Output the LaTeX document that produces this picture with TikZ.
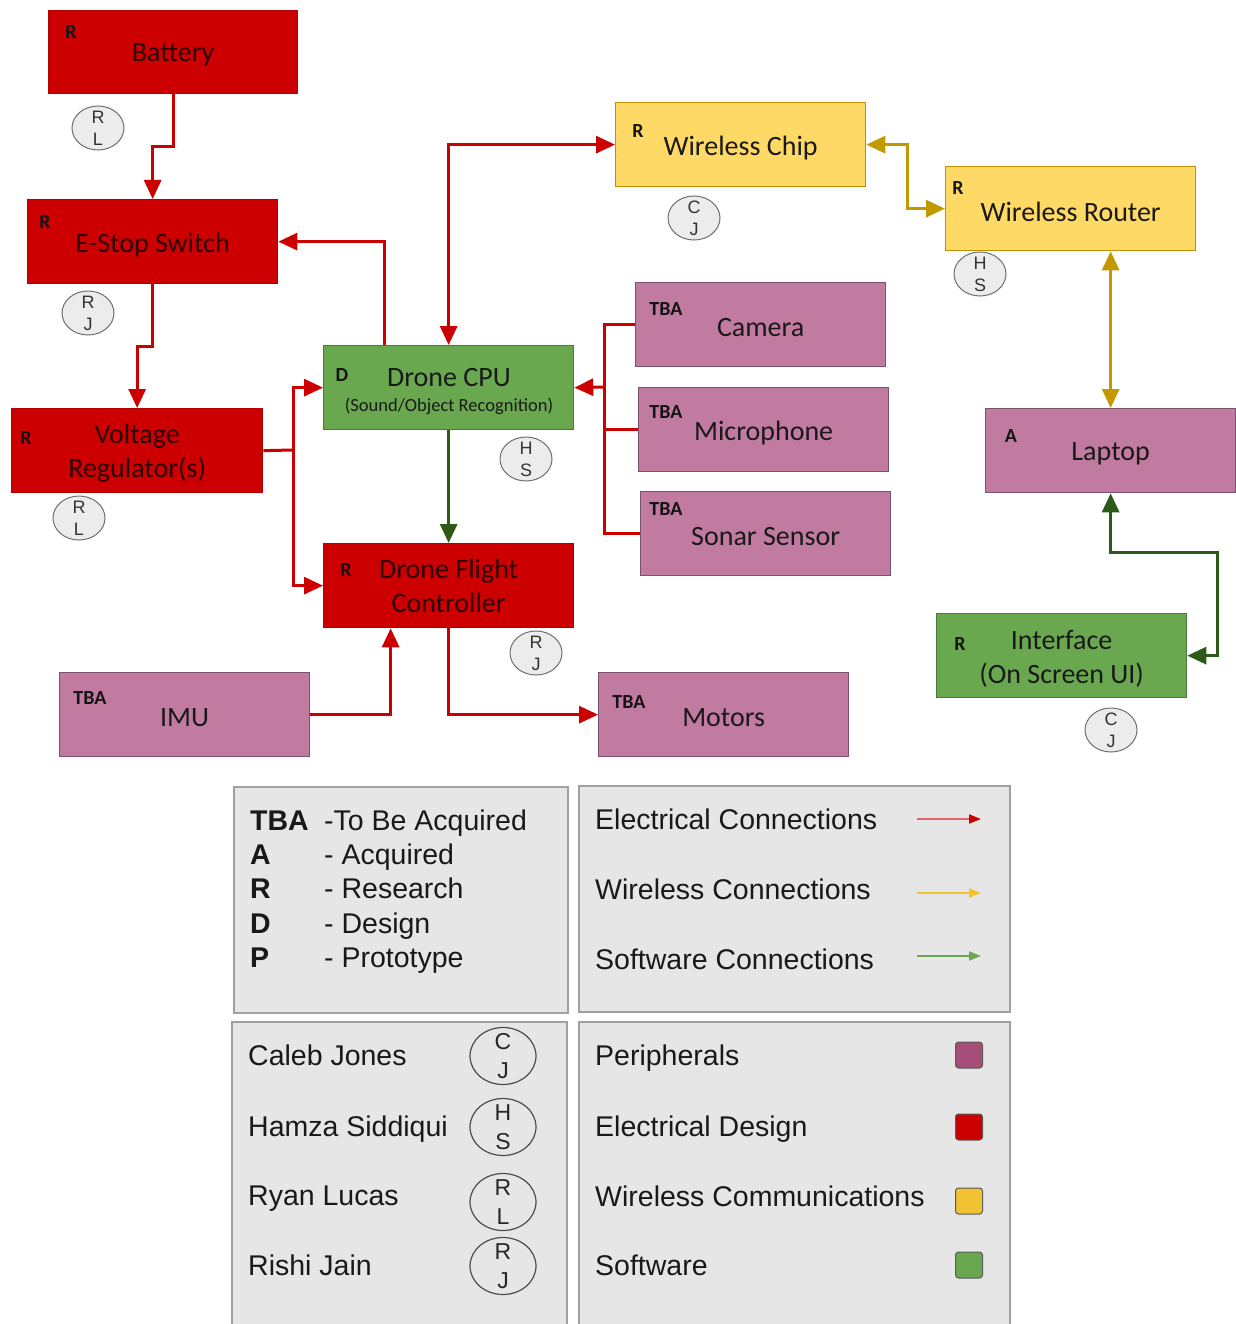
\documentclass[tikz,border=0pt]{standalone}
\usepackage{fontspec}
\setmainfont{Carlito}
\newfontfamily\arialf{Liberation Sans}
\usetikzlibrary{arrows.meta,shapes.geometric}
\definecolor{cred}{HTML}{CC0000}
\definecolor{credB}{HTML}{B00000}
\definecolor{credT}{HTML}{2E0000}
\definecolor{cpink}{HTML}{C27BA0}
\definecolor{cpinkB}{HTML}{7A5270}
\definecolor{cyel}{HTML}{FFD966}
\definecolor{cyelB}{HTML}{BF9000}
\definecolor{cgrn}{HTML}{6AA84F}
\definecolor{cgrnB}{HTML}{4C7A3A}
\definecolor{cline}{HTML}{CC0000}
\definecolor{cgold}{HTML}{C29A00}
\definecolor{cdgrn}{HTML}{2E5A17}
\definecolor{cini}{HTML}{ECECEC}
\definecolor{ciniB}{HTML}{707070}
\definecolor{clegbg}{HTML}{E7E6E6}
\definecolor{clegB}{HTML}{A0A0A0}
\definecolor{cperi}{HTML}{A64D79}
\definecolor{cwyel}{HTML}{F1C232}
\definecolor{celec}{HTML}{E06666}
\tikzset{bigtip/.tip={Triangle[length=19pt,width=17pt]}}
\begin{document}
\begin{tikzpicture}[x=1pt,y=-1pt,
  base/.style={rectangle,draw,line width=1.3pt,minimum width=250pt,minimum height=84pt,inner sep=0pt,anchor=north west},
  btxt/.style={label={[font=\fontsize{28}{34}\selectfont,align=center,yshift=-3pt,text=black!90,inner sep=0pt]center:{#1}}},
  rtxt/.style={label={[font=\fontsize{28}{34}\selectfont,align=center,yshift=-3pt,text=credT,inner sep=0pt]center:{#1}}},
  redbox/.style={base,fill=cred,draw=credB,rtxt={#1}},
  pinkbox/.style={base,fill=cpink,draw=cpinkB,btxt={#1}},
  yelbox/.style={base,fill=cyel,draw=cyelB,btxt={#1}},
  grnbox/.style={base,fill=cgrn,draw=cgrnB,btxt={#1}},
  tag/.style={font=\bfseries\fontsize{20}{20}\selectfont,inner sep=0pt,text=black!92},
  ini/.style={ellipse,draw=ciniB,fill=cini,line width=1pt,minimum width=52pt,minimum height=44pt,inner sep=0pt},
  inil/.style={font=\arialf\fontsize{18}{22}\selectfont,align=center,text=black!80},
  lini/.style={ellipse,draw=black!70,fill=clegbg,line width=1.2pt,minimum width=66pt,minimum height=57pt,inner sep=0pt},
  linil/.style={font=\arialf\fontsize{23}{29}\selectfont,align=center,text=black!85},
  ered/.style={draw=cline,line width=3pt},
  egold/.style={draw=cgold,line width=3pt},
  egrn/.style={draw=cdgrn,line width=3pt},
  legtxt/.style={font=\arialf\fontsize{28.5}{34}\selectfont,anchor=base west,inner sep=0pt,text=black!90},
  legbox/.style={fill=clegbg,draw=clegB,line width=2pt},
  sw/.style={rectangle,rounded corners=3pt,draw=black!65,line width=1pt,minimum width=27pt,minimum height=26pt,inner sep=0pt}
]
\useasboundingbox (0,0) rectangle (1235,1324);
\fill[white] (0,0) rectangle (1235,1324);

% ---------- boxes ----------
\node[redbox={Battery},minimum width=249pt,minimum height=83pt] (bat) at (48,10) {};
\node[redbox={E-Stop Switch}] (estop) at (27,199) {};
\node[redbox={Voltage\\Regulator(s)},minimum width=251pt] (vr) at (11,408) {};
\node[base,fill=cgrn,draw=cgrnB] (cpu) at (323,345) {};
\node[font=\fontsize{28}{34}\selectfont,text=black!90,inner sep=0pt] (cpuT) at (449,378) {Drone CPU};
\node[font=\fontsize{18.5}{22}\selectfont,text=black!90,inner sep=0pt] (cpuS) at (449,406) {(Sound/Object Recognition)};
\node[base,fill=cred,draw=credB,label={[font=\fontsize{28}{34}\selectfont,align=center,text=credT,inner sep=0pt]center:{Drone Flight\\Controller}}] (fc) at (323,543) {};
\node[pinkbox={IMU}] (imu) at (59,672) {};
\node[pinkbox={Motors}] (mot) at (598,672) {};
\node[yelbox={Wireless Chip}] (wchip) at (615,102) {};
\node[yelbox={Wireless Router}] (router) at (945,166) {};
\node[pinkbox={Camera}] (cam) at (635,282) {};
\node[pinkbox={Microphone}] (mic) at (638,387) {};
\node[pinkbox={Sonar Sensor}] (sonar) at (640,491) {};
\node[pinkbox={Laptop}] (laptop) at (985,408) {};
\node[grnbox={Interface\\(On Screen UI)}] (intf) at (936,613) {};

% ---------- tags ----------
\node[tag] (tbat) at (71,32) {R};
\node[tag] (testop) at (45,222) {R};
\node[tag] (tvr) at (26,438) {R};
\node[tag] (tcpu) at (342,375) {D};
\node[tag] (tfc) at (346,570) {R};
\node[tag] (timu) at (90,698) {TBA};
\node[tag] (tmot) at (629,702) {TBA};
\node[tag] (twchip) at (638,131) {R};
\node[tag] (trouter) at (958,188) {R};
\node[tag] (tcam) at (666,309) {TBA};
\node[tag] (tmic) at (666,412) {TBA};
\node[tag] (tsonar) at (666,509) {TBA};
\node[tag] (tlaptop) at (1011,436) {A};
\node[tag] (tintf) at (960,644) {R};

% ---------- initials ----------
\node[ini,label={[inil]center:R\\L}] (i1) at (98,128) {};
\node[ini,label={[inil]center:R\\J}] (i2) at (88,313) {};
\node[ini,label={[inil]center:R\\L}] (i3) at (79,518) {};
\node[ini,label={[inil]center:C\\J}] (i4) at (694,218) {};
\node[ini,label={[inil]center:H\\S}] (i5) at (980,274) {};
\node[ini,label={[inil]center:H\\S}] (i6) at (526,459) {};
\node[ini,label={[inil]center:R\\J}] (i7) at (536,653) {};
\node[ini,label={[inil]center:C\\J}] (i8) at (1111,730) {};

% ---------- connectors ----------
\coordinate (vrj) at (293,450);
\coordinate (pj) at (604,387);
\coordinate (lc) at (1217,552);

\draw[ered,-{bigtip}] (bat.south) -- ++(0,52) -| (estop.north);
\draw[ered,-{bigtip}] (estop.south) -- ++(0,62) -| (vr.north);
\draw[ered,-{bigtip}] ([xshift=61pt]cpu.north west) |- (estop.east);
\draw[ered,{bigtip}-{bigtip}] (cpu.north) |- (wchip.west);
\draw[ered] (vr.east) -- (vrj);
\draw[ered,-{bigtip}] (vrj) |- (cpu.west);
\draw[ered,-{bigtip}] (vrj) |- (fc.west);
\draw[ered] (cam.west) -| (pj);
\draw[ered] (mic.west) -| (pj);
\draw[ered] (sonar.west) -| (pj);
\draw[ered,-{bigtip}] (pj) -- (cpu.east);
\draw[egrn,-{bigtip}] (cpu.south) -- (fc.north);
\draw[ered,-{bigtip}] (imu.east) -| ([xshift=-58pt]fc.south);
\draw[ered,-{bigtip}] (fc.south) |- (mot.west);
\draw[egold,{bigtip}-{bigtip}] (wchip.east) -- ++(41,0) |- (router.west);
\draw[egold,{bigtip}-{bigtip}] (laptop.north |- router.south) -- (laptop.north);
\draw[egrn,{bigtip}-{bigtip}] (laptop.south) |- (lc) |- (intf.east);

% ---------- legend ----------
\draw[legbox] (234,787) rectangle (568,1013);
\draw[legbox] (579,786) rectangle (1010,1012);
\draw[legbox] (232,1022) rectangle (567,1340);
\draw[legbox] (579,1022) rectangle (1010,1340);

\node[legtxt,font=\arialf\bfseries\fontsize{28.5}{34}\selectfont] (kT) at (250,830) {TBA};
\node[legtxt] (kTd) at (324,830) {-To Be Acquired};
\node[legtxt,font=\arialf\bfseries\fontsize{28.5}{34}\selectfont] (kA) at (250,864) {A};
\node[legtxt] (kAd) at (324,864) {- Acquired};
\node[legtxt,font=\arialf\bfseries\fontsize{28.5}{34}\selectfont] (kR) at (250,898) {R};
\node[legtxt] (kRd) at (324,898) {- Research};
\node[legtxt,font=\arialf\bfseries\fontsize{28.5}{34}\selectfont] (kD) at (250,933) {D};
\node[legtxt] (kDd) at (324,933) {- Design};
\node[legtxt,font=\arialf\bfseries\fontsize{28.5}{34}\selectfont] (kP) at (250,967) {P};
\node[legtxt] (kPd) at (324,967) {- Prototype};

\node[legtxt] (cE) at (595,829) {Electrical Connections};
\node[legtxt] (cW) at (595,899) {Wireless Connections};
\node[legtxt] (cS) at (595,969) {Software Connections};
\coordinate (aE1) at (917,819); \coordinate (aE2) at (981,819);
\coordinate (aW1) at (917,893); \coordinate (aW2) at (981,893);
\coordinate (aS1) at (917,956); \coordinate (aS2) at (981,956);
\draw[draw=celec,line width=1.8pt,-{Triangle[length=12pt,width=9pt,color=cred]}] (aE1) -- (aE2);
\draw[draw=cwyel,line width=1.8pt,-{Triangle[length=12pt,width=9pt]}] (aW1) -- (aW2);
\draw[draw=cgrn,line width=1.8pt,-{Triangle[length=12pt,width=9pt]}] (aS1) -- (aS2);

\node[legtxt] (nC) at (248,1065) {Caleb Jones};
\node[legtxt] (nH) at (248,1136) {Hamza Siddiqui};
\node[legtxt] (nR) at (248,1205) {Ryan Lucas};
\node[legtxt] (nJ) at (248,1275) {Rishi Jain};
\node[lini,label={[linil]center:C\\J}] (lc1) at (503,1056) {};
\node[lini,label={[linil]center:H\\S}] (lc2) at (503,1127) {};
\node[lini,label={[linil]center:R\\L}] (lc3) at (503,1202) {};
\node[lini,label={[linil]center:R\\J}] (lc4) at (503,1266) {};

\node[legtxt] (gP) at (595,1065) {Peripherals};
\node[legtxt] (gE) at (595,1136) {Electrical Design};
\node[legtxt] (gW) at (595,1206) {Wireless Communications};
\node[legtxt] (gS) at (595,1275) {Software};
\node[sw,fill=cperi] (sP) at (969,1055) {};
\node[sw,fill=cred] (sE) at (969,1127) {};
\node[sw,fill=cwyel] (sW) at (969,1201) {};
\node[sw,fill=cgrn] (sS) at (969,1265) {};
\end{tikzpicture}
\end{document}
